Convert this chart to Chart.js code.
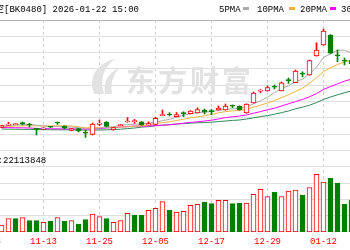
<!DOCTYPE html>
<html>
<head>
<meta charset="utf-8">
<script src="https://cdn.jsdelivr.net/npm/chart.js@4"></script>
<style>
  html, body { margin: 0; padding: 0; background: #fff; overflow: hidden; }
  #wrap { position: relative; width: 350px; height: 250px; }
</style>
</head>
<body>
<div id="wrap"><canvas id="kline" width="350" height="250"></canvas></div>
<script>
// ── data ───────────────────────────────────────────────
const dates = ['11-05','11-06','11-07','11-10','11-11','11-12','11-13','11-14','11-17','11-18',
  '11-19','11-20','11-21','11-24','11-25','11-26','11-27','11-28','12-01','12-02',
  '12-03','12-04','12-05','12-08','12-09','12-10','12-11','12-12','12-15','12-16',
  '12-17','12-18','12-19','12-22','12-23','12-24','12-25','12-26','12-29','12-30',
  '12-31','01-05','01-06','01-07','01-08','01-09','01-12','01-13','01-14','01-15','01-16'];

const open  = [1463,1474,1477,1483,1476,1458,1453,1466,1486,1470,1448,1457,1436,1428,1478,1490,1450,1472,1490,1492,
  1491,1475,1478,1522,1530,1517,1533,1532,1536,1550,1543,1550,1550,1571,1570,1535,1586,1644,1645,1666,
  1646,1698,1687,1731,1725,1820,1875,1925,1823,1796,1800];
const high  = [1473,1489,1483,1490,1483,1459,1462,1468,1490,1471,1458,1458,1450,1485,1500,1492,1463,1478,1512,1503,
  1492,1491,1513,1550,1537,1537,1541,1547,1561,1555,1553,1570,1580,1575,1571,1581,1640,1652,1670,1675,
  1690,1710,1750,1741,1800,1886,1955,1927,1850,1810,1805];
const low   = [1462,1473,1476,1475,1465,1425,1452,1462,1478,1455,1446,1440,1413,1425,1472,1466,1449,1471,1489,1483,
  1474,1474,1477,1521,1520,1516,1517,1531,1535,1530,1527,1549,1549,1562,1549,1534,1585,1637,1644,1655,
  1645,1683,1686,1716,1724,1819,1874,1832,1791,1775,1770];
const close = [1472,1480,1482,1482,1475,1453,1461,1464,1485,1459,1457,1445,1434,1480,1485,1468,1462,1477,1495,1493,
  1475,1482,1508,1527,1525,1527,1532,1545,1552,1540,1542,1560,1570,1569,1550,1580,1635,1646,1662,1664,
  1686,1697,1745,1729,1797,1850,1945,1834,1821,1794,1780];

const ma5  = [1470,1472,1475,1477,1478,1474,1470,1467,1467,1464,1465,1462,1456,1455,1460,1462,1466,1474,1477,1479,
  1480,1484,1490,1497,1503,1514,1524,1531,1536,1539,1542,1548,1553,1556,1558,1566,1581,1596,1614,1637,
  1658,1671,1691,1704,1731,1763,1813,1831,1849,1849,1835];
const ma10 = [1467,1468,1470,1471,1471,1471,1470,1470,1471,1471,1470,1466,1461,1461,1462,1464,1464,1465,1466,1469,
  1471,1475,1482,1487,1491,1497,1504,1511,1516,1521,1528,1536,1542,1546,1548,1554,1564,1574,1585,1598,
  1612,1626,1643,1659,1684,1711,1742,1761,1777,1790,1799];
const ma20 = [1462,1462,1461,1461,1460,1458,1457,1456,1456,1455,1455,1455,1455,1456,1457,1460,1462,1465,1467,1470,
  1470,1470,1472,1474,1476,1480,1484,1488,1491,1495,1499,1505,1512,1516,1520,1525,1534,1542,1551,1559,
  1570,1581,1592,1603,1616,1632,1653,1667,1681,1694,1705];
const ma30 = [1455,1454,1454,1453,1453,1452,1452,1451,1451,1451,1451,1450,1450,1450,1450,1451,1452,1454,1457,1460,
  1464,1467,1471,1474,1477,1480,1482,1484,1486,1487,1489,1492,1495,1498,1500,1505,1511,1517,1522,1529,
  1537,1545,1556,1564,1574,1587,1603,1615,1626,1636,1646];

// volume, millions of shares; 1 = red (up) bar, 0 = green
const volume = [4.2,8.0,8.0,8.6,6.8,6.8,5.8,6.4,8.6,6.4,6.8,4.8,7.4,10.8,9.2,8.0,5.8,6.8,11.2,10.0,
  10.0,13.0,14.2,18.2,13.0,12.0,12.4,16.0,16.6,18.0,17.0,19.0,19.0,17.0,17.4,17.4,22.6,25.6,21.2,24.0,
  21.2,24.6,25.2,22.0,26.6,34.6,30.0,32.2,29.4,16.6,19.2];
const volUp = [1,1,0,1,0,0,1,0,1,0,1,0,0,1,1,0,1,1,1,0,0,1,1,1,0,1,1,1,1,0,0,1,1,0,0,1,1,1,1,0,1,1,1,0,1,1,1,0,0,0,0];

const tickIdx    = [-2, 6, 14, 22, 30, 38, 46];
const tickLabels = ['11-03','11-13','11-25','12-05','12-17','12-29','01-12'];

const titleText = '航天航空[BK0480] 2026-01-22 15:00';
const volText   = '成交量:22113848';
const maNames   = ['5PMA', '10PMA', '20PMA', '30PMA'];

// ── styling ───────────────────────────────────────────
const RED = '#ff0000', GREEN = '#008000';
const MA_COLORS = ['#aaaaaa', '#f5b13d', '#ff00ff', '#2e8b57'];
const MONO = '"Liberation Mono", "Noto Sans CJK SC", monospace';

const priceTop = 2000, priceBottom = 940, gridStep = 81.5;
const idx = dates.map((_, i) => i);
const isUp = i => close[i] >= open[i];

const maLine = (vals, color) => ({
  type: 'line',
  data: idx.map(i => ({ x: i, y: vals[i] })),
  borderColor: color,
  borderWidth: 1,
  pointRadius: 0,
  tension: 0,
  yAxisID: 'y',
});

// ── texts, watermark ──────────────────────────────────
const decor = {
  id: 'decor',
  beforeDatasetsDraw(chart) {
    const ctx = chart.ctx;
    ctx.save();
    ctx.fillStyle = '#e2e2e2';
    // logo swirl
    ctx.beginPath();
    ctx.moveTo(94, 94);
    ctx.quadraticCurveTo(85, 68, 116, 58);
    ctx.quadraticCurveTo(97, 72, 104, 94);
    ctx.closePath();
    ctx.fill();
    ctx.beginPath();
    ctx.moveTo(105, 94);
    ctx.quadraticCurveTo(102, 76, 119, 68);
    ctx.quadraticCurveTo(109, 80, 112, 94);
    ctx.closePath();
    ctx.fill();
    ctx.font = 'bold 29px "Noto Sans CJK SC"';
    ctx.textBaseline = 'alphabetic';
    [...'东方财富'].forEach((ch, k) => ctx.fillText(ch, 126 + k * 32, 92));
    ctx.restore();
  },
  afterDraw(chart) {
    const ctx = chart.ctx;
    const xs = chart.scales.x;
    ctx.save();
    ctx.font = '9px ' + MONO;
    ctx.textBaseline = 'alphabetic';
    ctx.fillStyle = '#000';

    // title, cut at the left edge
    const pre = ctx.measureText('航天航空').width;
    ctx.fillText(titleText, 4 - pre, 12);

    // MA legend
    const legX = [219, 257, 300, 341];
    const swX  = [243, 289, 330, 372];
    maNames.forEach((n, k) => {
      ctx.fillStyle = '#000';
      ctx.fillText(n, legX[k], 12);
      ctx.fillStyle = MA_COLORS[k];
      ctx.fillRect(swX[k], 7, 6, 3);
    });

    // volume label
    ctx.fillStyle = '#000';
    const vpre = ctx.measureText('成交量:').width;
    ctx.fillText(volText, 3 - vpre, 163);

    // date ticks
    ctx.fillStyle = RED;
    ctx.textAlign = 'center';
    tickIdx.forEach((v, k) => ctx.fillText(tickLabels[k], xs.getPixelForValue(v), 243.5));
    ctx.restore();
  },
};

new Chart(document.getElementById('kline').getContext('2d'), {
  type: 'bar',
  data: {
    datasets: [
      { // candle bodies
        type: 'bar',
        data: idx.map(i => ({ x: i, y: [open[i], close[i]] })),
        backgroundColor: idx.map(i => isUp(i) ? '#ffffff' : GREEN),
        borderColor: idx.map(i => isUp(i) ? RED : GREEN),
        borderWidth: 1,
        borderSkipped: false,
        barThickness: 5,
        minBarLength: 1,
        grouped: false,
        yAxisID: 'y',
      },
      { // wicks
        type: 'bar',
        data: idx.map(i => ({ x: i, y: [low[i], high[i]] })),
        backgroundColor: idx.map(i => isUp(i) ? RED : GREEN),
        borderWidth: 0,
        barThickness: 1,
        grouped: false,
        yAxisID: 'y',
      },
      maLine(ma5, MA_COLORS[0]),
      maLine(ma10, MA_COLORS[1]),
      maLine(ma20, MA_COLORS[2]),
      maLine(ma30, MA_COLORS[3]),
      { // volume
        type: 'bar',
        data: idx.map(i => ({ x: i, y: volume[i] })),
        backgroundColor: idx.map(i => volUp[i] ? '#ffffff' : GREEN),
        borderColor: idx.map(i => volUp[i] ? RED : GREEN),
        borderWidth: 1,
        borderSkipped: false,
        barThickness: 5,
        grouped: false,
        yAxisID: 'yv',
      },
    ],
  },
  options: {
    responsive: false,
    animation: false,
    devicePixelRatio: 1,
    events: [],
    layout: { padding: { top: 20, left: 0, right: 0, bottom: 0 } },
    plugins: { legend: { display: false }, tooltip: { enabled: false } },
    scales: {
      x: {
        type: 'linear',
        offset: false,
        min: -1.5 / 7,
        max: (350 - 1.5) / 7,
        afterBuildTicks: s => { s.ticks = tickIdx.map(v => ({ value: v })); },
        afterFit: s => { s.height = 18; },
        ticks: { display: false },
        grid: { color: '#cfcfcf', drawTicks: false, offset: false },
        border: { display: false, dash: [3, 3] },
      },
      y: {
        position: 'left',
        min: priceBottom,
        max: priceTop,
        afterBuildTicks: s => {
          const t = [];
          for (let v = priceTop; v >= priceBottom; v -= gridStep) t.push({ value: v });
          s.ticks = t;
        },
        afterFit: s => { s.width = 0; },
        ticks: { display: false },
        grid: { color: c => c.index === 0 ? '#b4b4b4' : '#e0e0e0', drawTicks: false },
        border: { display: false },
      },
      yv: { display: false, min: 0, max: 127.2 },
    },
  },
  plugins: [decor],
});
</script>
</body>
</html>
